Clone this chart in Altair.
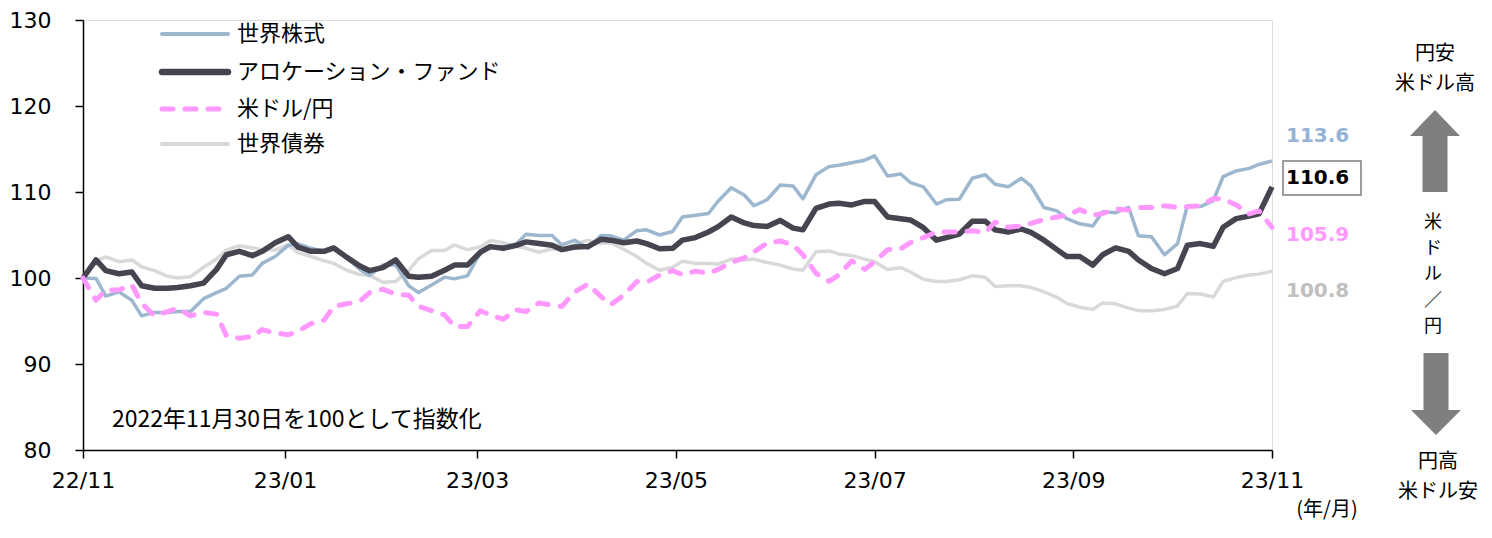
import altair as alt
import pandas as pd
from datetime import date, timedelta

START = date(2022, 11, 30)
END = date(2023, 11, 30)
N = 100
SPAN = (END - START).days
DATES = [(START + timedelta(days=round(i * SPAN / (N - 1)))).isoformat() for i in range(N)]

STOCKS = [100.0, 99.95, 97.9, 98.4, 97.4, 95.6, 96.0, 96.0, 96.1, 96.1,
          97.6, 98.3, 98.8, 100.2, 100.35, 101.7, 102.5, 103.8, 103.95, 103.45,
          103.1, 103.6, 102.4, 101.0, 100.3, 101.5, 101.5, 99.1, 98.3, 99.2,
          100.1, 99.9, 100.25, 102.95, 103.5, 103.65, 103.95, 105.1, 104.95, 104.95,
          103.85, 104.4, 103.45, 104.95, 104.9, 104.4, 105.5, 105.6, 105.0, 105.4,
          107.1, 107.3, 107.5, 108.95, 110.5, 109.65, 108.4, 109.1, 110.8, 110.7,
          109.2, 112.0, 112.95, 113.1, 113.4, 113.7, 114.2, 111.85, 112.1, 111.1,
          110.6, 108.6, 109.1, 109.15, 111.6, 112.0, 110.9, 110.6, 111.6, 110.7,
          108.2, 107.8, 106.9, 106.3, 106.05, 107.7, 107.6, 108.2, 104.9, 104.8,
          102.7, 104.0, 108.4, 108.3, 109.0, 111.8, 112.45, 112.75, 113.2, 113.6]

FUND = [100.0, 102.1, 100.85, 100.5, 100.7, 99.1, 98.8, 98.8, 98.9, 99.1,
        99.4, 101.0, 102.7, 103.1, 102.6, 103.1, 104.1, 104.8, 103.6, 103.1,
        103.1, 103.5, 102.4, 101.4, 100.85, 101.2, 102.1, 100.2, 100.1, 100.2,
        100.9, 101.5, 101.5, 103.0, 103.65, 103.45, 103.8, 104.2, 104.0, 103.8,
        103.3, 103.6, 103.65, 104.5, 104.4, 104.1, 104.3, 104.0, 103.4, 103.45,
        104.4, 104.7, 105.35, 105.97, 107.1, 106.4, 106.1, 106.0, 106.7, 105.8,
        105.6, 108.1, 108.6, 108.7, 108.5, 108.9, 108.9, 107.1, 106.9, 106.75,
        105.85, 104.4, 104.7, 105.1, 106.6, 106.6, 105.6, 105.35, 105.7, 105.3,
        104.4, 103.3, 102.5, 102.5, 101.5, 102.7, 103.5, 103.1, 102.1, 101.1,
        100.5, 101.1, 103.8, 104.0, 103.7, 105.9, 106.9, 107.2, 107.45, 110.6]

USDJPY = [100.0, 97.4, 98.6, 98.6, 99.2, 97.05, 95.6, 96.1, 96.5, 95.6,
          96.0, 95.8, 93.3, 93.0, 93.2, 94.0, 93.6, 93.4, 93.8, 94.7,
          95.1, 96.7, 97.0, 97.3, 98.3, 98.7, 98.1, 98.0, 96.7, 96.2,
          95.7, 94.35, 94.35, 96.2, 95.7, 95.2, 96.3, 96.1, 97.1, 96.85,
          96.7, 98.4, 99.3, 97.85, 96.9, 98.0, 99.6, 99.5, 100.35, 100.85,
          100.4, 100.8, 100.55, 101.0, 101.8, 102.35, 103.05, 104.05, 104.3, 103.85,
          102.7, 100.55, 99.6, 100.35, 102.0, 101.0, 101.9, 103.3, 103.4, 104.1,
          104.7, 105.35, 105.35, 105.35, 105.5, 105.3, 106.5, 105.9, 106.05, 106.35,
          106.8, 107.1, 107.3, 107.95, 107.3, 107.5, 108.0, 107.9, 108.2, 108.2,
          108.4, 108.2, 108.3, 108.4, 109.25, 109.2, 108.5, 107.45, 107.8, 105.9]

BONDS = [100.0, 101.95, 102.45, 101.9, 102.1, 101.3, 100.85, 100.2, 100.0, 100.15,
         101.25, 102.2, 103.25, 103.75, 103.5, 103.3, 103.25, 103.85, 102.95, 102.5,
         102.0, 101.7, 100.9, 100.4, 100.3, 99.5, 99.6, 100.9, 102.25, 103.2,
         103.2, 103.85, 103.3, 103.6, 104.35, 104.1, 103.7, 103.45, 103.0, 103.4,
         103.35, 103.9, 104.4, 104.0, 104.1, 103.35, 102.5, 101.7, 100.9, 101.25,
         101.95, 101.7, 101.7, 101.6, 102.2, 102.1, 102.2, 101.8, 101.5, 101.05,
         100.9, 103.05, 103.15, 102.8, 102.6, 102.2, 101.9, 101.0, 101.2, 100.7,
         99.85, 99.6, 99.6, 99.8, 100.25, 100.1, 99.0, 99.1, 99.1, 98.9,
         98.4, 97.75, 97.05, 96.6, 96.35, 97.1, 97.0, 96.5, 96.2, 96.2,
         96.35, 96.75, 98.2, 98.15, 97.8, 99.6, 100.05, 100.35, 100.45, 100.8]

NAMES = ["世界株式", "アロケーション・ファンド", "米ドル/円", "世界債券"]
COLORS = ["#9DB7CF", "#45444F", "#FF99FF", "#D9D9D9"]
END_LABELS = ["113.6", "110.6", "105.9", "100.8"]
END_LABEL_Y = [116.5, 111.6, 104.95, 98.5]
END_LABEL_COLORS = ["#95B3D7", "#000000", "#FF99FF", "#BFBFBF"]
X_TICKS = ["2022-11-30", "2023-01-31", "2023-03-31", "2023-05-31",
           "2023-07-31", "2023-09-30", "2023-11-30"]
Y_TICKS = [80, 90, 100, 110, 120, 130]
NOTE = "2022年11月30日を100として指数化"
VERTICAL = ["米", "ド", "ル", "／", "円"]

JP = "Noto Sans CJK JP"
NUM = "DejaVu Sans"


def dt(s):
    y, m, d = (int(p) for p in s.split("-"))
    return alt.DateTime(year=y, month=m, date=d, utc=True)


X = alt.X(
    "date:T",
    scale=alt.Scale(type="utc", domain=[dt(START.isoformat()), dt(END.isoformat())]),
    axis=alt.Axis(values=[dt(s) for s in X_TICKS],
                  labelExpr="utcFormat(datum.value, '%y/%m')",
                  title=None, tickSize=8, labelPadding=12, labelFontSize=22,
                  labelFont=NUM, labelColor="black", domainColor="black",
                  tickColor="black", domainWidth=1.5, tickWidth=1.5,
                  grid=False, labelFlush=False, labelOverlap=False),
)
Y = alt.Y(
    "value:Q",
    scale=alt.Scale(domain=[80, 130], nice=False, zero=False),
    axis=alt.Axis(values=Y_TICKS, title=None, tickSize=8, labelPadding=24,
                  labelFontSize=22, labelFont=NUM, labelColor="black",
                  domainColor="black", tickColor="black", domainWidth=1.5,
                  tickWidth=1.5, grid=False),
)

ONE = pd.DataFrame({"k": [0]})


def line_layer(vals, color, width, dash=None):
    df = pd.DataFrame({"date": DATES, "value": vals})
    kw = dict(color=color, strokeWidth=width, strokeJoin="round")
    if dash:
        kw["strokeDash"] = dash
        kw["strokeCap"] = "round"
    return alt.Chart(df).mark_line(**kw).encode(x=X, y=Y)


layers = [
    line_layer(BONDS, COLORS[3], 3.5),
    line_layer(STOCKS, COLORS[0], 3.5),
    line_layer(FUND, COLORS[1], 5.5),
    line_layer(USDJPY, COLORS[2], 5, dash=[11, 12]),
]

# legend (manual)
LEG_Y = [14, 52, 89, 124]
LEG_W = [4, 6.5, 5, 4]
for i, name in enumerate(NAMES):
    kw = dict(color=COLORS[i], strokeWidth=LEG_W[i], strokeCap="round")
    if i == 2:
        kw["strokeDash"] = [11, 12]
    layers.append(alt.Chart(ONE).mark_rule(**kw).encode(
        x=alt.value(79), x2=alt.value(145), y=alt.value(LEG_Y[i])))
    layers.append(alt.Chart(ONE).mark_text(
        align="left", baseline="middle", fontSize=22, font=JP, color="black").encode(
        x=alt.value(154), y=alt.value(LEG_Y[i]), text=alt.value(name)))

# note
layers.append(alt.Chart(ONE).mark_text(
    align="left", baseline="middle", fontSize=23, font=JP, color="black").encode(
    x=alt.value(29), y=alt.value(400), text=alt.value(NOTE)))

# box for fund label
layers.append(alt.Chart(ONE).mark_rect(
    fill="white", stroke="#7F7F7F", strokeWidth=1.5).encode(
    x=alt.value(1200), x2=alt.value(1278), y=alt.value(141), y2=alt.value(175)))

# end labels
for i, lab in enumerate(END_LABELS):
    df = pd.DataFrame({"date": [END.isoformat()], "value": [END_LABEL_Y[i]], "t": [lab]})
    layers.append(alt.Chart(df).mark_text(
        align="left", baseline="middle", dx=14, fontSize=20, fontWeight="bold",
        font=NUM, color=END_LABEL_COLORS[i]).encode(x=X, y=Y, text="t:N"))

# right side annotation
ARROW = "#7F7F7F"
UP = "M0,-1.64L1,-0.6L0.5,-0.6L0.5,1.64L-0.5,1.64L-0.5,-0.6L-1,-0.6Z"
DOWN = "M0,1.64L1,0.64L0.5,0.64L0.5,-1.64L-0.5,-1.64L-0.5,0.64L-1,0.64Z"
layers.append(alt.Chart(ONE).mark_point(
    shape=UP, size=2500, filled=True, color=ARROW, opacity=1, strokeWidth=0).encode(
    x=alt.value(1352), y=alt.value(131)))
layers.append(alt.Chart(ONE).mark_point(
    shape=DOWN, size=2500, filled=True, color=ARROW, opacity=1, strokeWidth=0).encode(
    x=alt.value(1353), y=alt.value(374)))

RIGHT_TEXTS = [("円安", 1352, 34, 20), ("米ドル高", 1352, 64, 20),
               ("円高", 1355, 442, 20), ("米ドル安", 1355, 472, 20),
               ("(年/月)", 1244, 490, 20)]
for t, xx, yy, fs in RIGHT_TEXTS:
    layers.append(alt.Chart(ONE).mark_text(
        align="center", baseline="middle", fontSize=fs, font=JP, color="black").encode(
        x=alt.value(xx), y=alt.value(yy), text=alt.value(t)))

# vertical 米ドル／円 as one multi-line text
layers.append(alt.Chart(ONE).mark_text(
    align="center", baseline="top", fontSize=18, lineHeight=26, font=JP,
    color="black").encode(
    x=alt.value(1350), y=alt.value(194), text=alt.value(VERTICAL)))

chart = alt.layer(*layers).properties(
    width=1189, height=430,
    padding={"left": 75, "top": 12, "right": 210, "bottom": 74},
    autosize=alt.AutoSizeParams(type="none"),
).configure_view(stroke=None).configure(background="white")

chart.save("out.html", embed_options={"renderer": "svg", "actions": False})
